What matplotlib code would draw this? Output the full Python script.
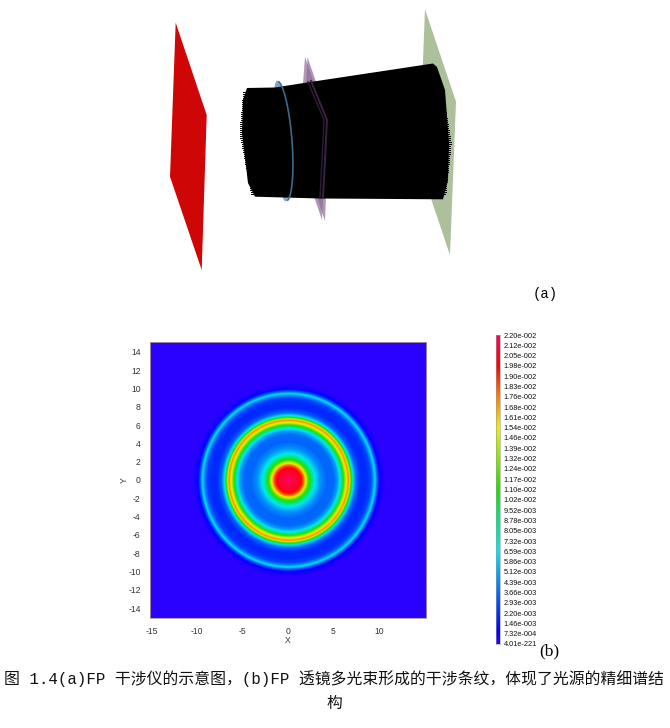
import matplotlib
matplotlib.use("Agg")
from matplotlib import pyplot as plt
from matplotlib.colors import LinearSegmentedColormap
from matplotlib.patches import Polygon, Ellipse
import numpy as np

plt.rcParams['font.family'] = ['Noto Sans CJK SC', 'DejaVu Sans']
plt.rcParams['axes.unicode_minus'] = False

# radial profile of the fringes
radius = [0, 1.2, 1.6, 1.9, 2.2, 2.6, 3.0, 3.5, 4.2, 5.0, 5.4, 5.7, 6.0, 6.3, 6.6, 6.85, 7.1, 7.4, 7.9, 8.5,
          9.0, 9.3, 9.5, 9.7, 10.0, 10.5, 11, 22]
intensity = [0.0220, 0.0205, 0.0185, 0.0150, 0.0115, 0.0085, 0.0062, 0.0045, 0.0034, 0.0036, 0.0050, 0.0072,
             0.0105, 0.0150, 0.0175, 0.0115, 0.0065, 0.0035, 0.0020, 0.0019, 0.0026, 0.0045, 0.0066, 0.0036,
             0.0008, 0.0001, 0.0, 0.0]
xticks = [-15, -10, -5, 0, 5, 10]
yticks = [-14, -12, -10, -8, -6, -4, -2, 0, 2, 4, 6, 8, 10, 12, 14]
cbar_labels = ["2.20e-002", "2.12e-002", "2.05e-002", "1.98e-002", "1.90e-002", "1.83e-002", "1.76e-002",
               "1.68e-002", "1.61e-002", "1.54e-002", "1.46e-002", "1.39e-002", "1.32e-002", "1.24e-002",
               "1.17e-002", "1.10e-002", "1.02e-002", "9.52e-003", "8.78e-003", "8.05e-003", "7.32e-003",
               "6.59e-003", "5.86e-003", "5.12e-003", "4.39e-003", "3.66e-003", "2.93e-003", "2.20e-003",
               "1.46e-003", "7.32e-004", "4.01e-221"]
cmap_stops = [0, 0.04, 0.15, 0.3, 0.4, 0.5, 0.7, 0.8, 0.9, 1]
cmap_colors = ["#2a00ff", "#0000ff", "#0060ff", "#00e8f0", "#00e880", "#20e000", "#f0f000", "#ff8000", "#ff0000",
               "#ff0060"]

# schematic (a), outlines in pixels of the picture
red_plane = [(175.7, 22.7), (206.7, 115), (201.7, 270), (170, 176.7)]
green_plane = [(425, 9.3), (456, 101.7), (450, 255), (419, 163)]
purple_a = [(305, 57), (327, 120), (322, 220), (298, 150)]
purple_b = [(307.5, 57), (329, 120), (325, 221), (303, 155)]
barrel = [(247, 88), (275, 87.5), (307, 82.5), (433, 63.5), (437, 67), (445, 90), (449, 143), (448, 180),
          (443, 199.3), (320, 198.5), (255, 196.7), (248, 183), (242, 133), (243, 100)]
purple_edge_a = [(311, 81), (327, 120), (323, 198)]
purple_edge_b = [(308, 82), (324, 120), (320, 198)]

cmap = LinearSegmentedColormap.from_list("fringes", list(zip(cmap_stops, cmap_colors)))
W, H = 670, 728
fig = plt.figure(figsize=(W / 100, H / 100), dpi=100)

# overlay in pixel units for the schematic and the text
bg = fig.add_axes([0, 0, 1, 1])
bg.set_xlim(0, W)
bg.set_ylim(H, 0)
bg.axis('off')
bg.add_patch(Polygon(red_plane, color="#cf0606", lw=0))
bg.add_patch(Polygon(green_plane, color="#adc09c", lw=0))
bg.add_patch(Polygon(purple_a, color="#8d6c96", alpha=0.7, lw=0))
bg.add_patch(Polygon(purple_b, color="#8d6c96", alpha=0.7, lw=0))
bg.add_patch(Ellipse((281.5, 141), 15, 121, angle=-4, color="#7fa6c6", lw=0))
bg.add_patch(Polygon(barrel, color="black", lw=0))
# jagged ends of the ray bundle
for yy in np.arange(92, 195, 2.0):
    xl = np.interp(yy, [88, 133, 196], [245, 241, 253])
    xr = np.interp(yy, [70, 143, 199], [438, 450, 444])
    bg.plot([xl - 1.5, xl + 6], [yy, yy], color="black", lw=0.7)
    bg.plot([xr - 6, xr + 0.8], [yy, yy], color="black", lw=0.7)
# lens rim and etalon edges seen across the bundle
tt = np.linspace(-1.4, 1.4, 60)
bg.plot(281.5 + 10.5 * np.cos(tt) + 4.5 * np.sin(tt), 141 + 60 * np.sin(tt), color="#3d6a8a", lw=1.2)
bg.plot(*zip(*purple_edge_a), color="#3b2442", lw=1.4)
bg.plot(*zip(*purple_edge_b), color="#2e1c34", lw=1.0)

bg.text(545, 294, "(a)", fontsize=10, ha='center', va='center', family=['Liberation Mono', 'DejaVu Sans'])
bg.text(549, 651, "(b)", fontsize=12.5, ha='center', va='center', family='Liberation Serif')
cap_font = ['Liberation Mono', 'Noto Sans CJK SC']
bg.text(333.5, 679, "图 1.4(a)FP 干涉仪的示意图，(b)FP 透镜多光束形成的干涉条纹，体现了光源的精细谱结",
        fontsize=11.4, ha='center', va='center', color="#111111", family=cap_font)
bg.text(334, 703, "构", fontsize=11.4, ha='center', va='center', color="#111111", family=cap_font)

# fringe map (b)
ax = fig.add_axes([149.7 / W, 1 - 617.7 / H, 276.3 / W, 276 / H])
xs = np.linspace(-15.25, 15.2, 500)
ys = np.linspace(-15.05, 15.1, 500)
X, Y = np.meshgrid(xs, ys)
Z = np.interp(np.hypot(X, Y), radius, intensity)
ax.imshow(Z, extent=[-15.25, 15.2, -15.05, 15.1], origin='lower', cmap=cmap, vmin=0, vmax=0.022, aspect='auto')
ax.set_xticks(xticks)
ax.set_yticks(yticks)
ax.tick_params(length=0, labelsize=6.2, labelcolor="#333333")
ax.tick_params(axis='x', pad=7)
ax.tick_params(axis='y', pad=6.5)
for lab in ax.get_xticklabels() + ax.get_yticklabels():
    lab.set_family('Liberation Sans')
ax.set_xlabel("X", fontsize=6.2, labelpad=0, color="#333333", family='Liberation Sans')
ax.set_ylabel("Y", fontsize=6.2, labelpad=-0.5, color="#333333", family='Liberation Sans')
for s in ax.spines.values():
    s.set_color("#b09a90")
    s.set_linewidth(0.6)

# colour bar
cax = fig.add_axes([496 / W, 1 - 644 / H, 3.5 / W, 309 / H])
grad = np.linspace(0, 1, 256).reshape(-1, 1)
cax.imshow(grad, origin='lower', cmap=cmap, aspect='auto', extent=[0, 1, 0, 1])
cax.set_xticks([])
cax.yaxis.tick_right()
cax.set_yticks(np.linspace(1, 0, len(cbar_labels)))
cax.set_yticklabels(cbar_labels, fontsize=5.3, family='Liberation Sans', color="#111111")
cax.tick_params(length=0, pad=3)
for s in cax.spines.values():
    s.set_color("#999999")
    s.set_linewidth(0.4)

fig.savefig("out.png", dpi=100)
